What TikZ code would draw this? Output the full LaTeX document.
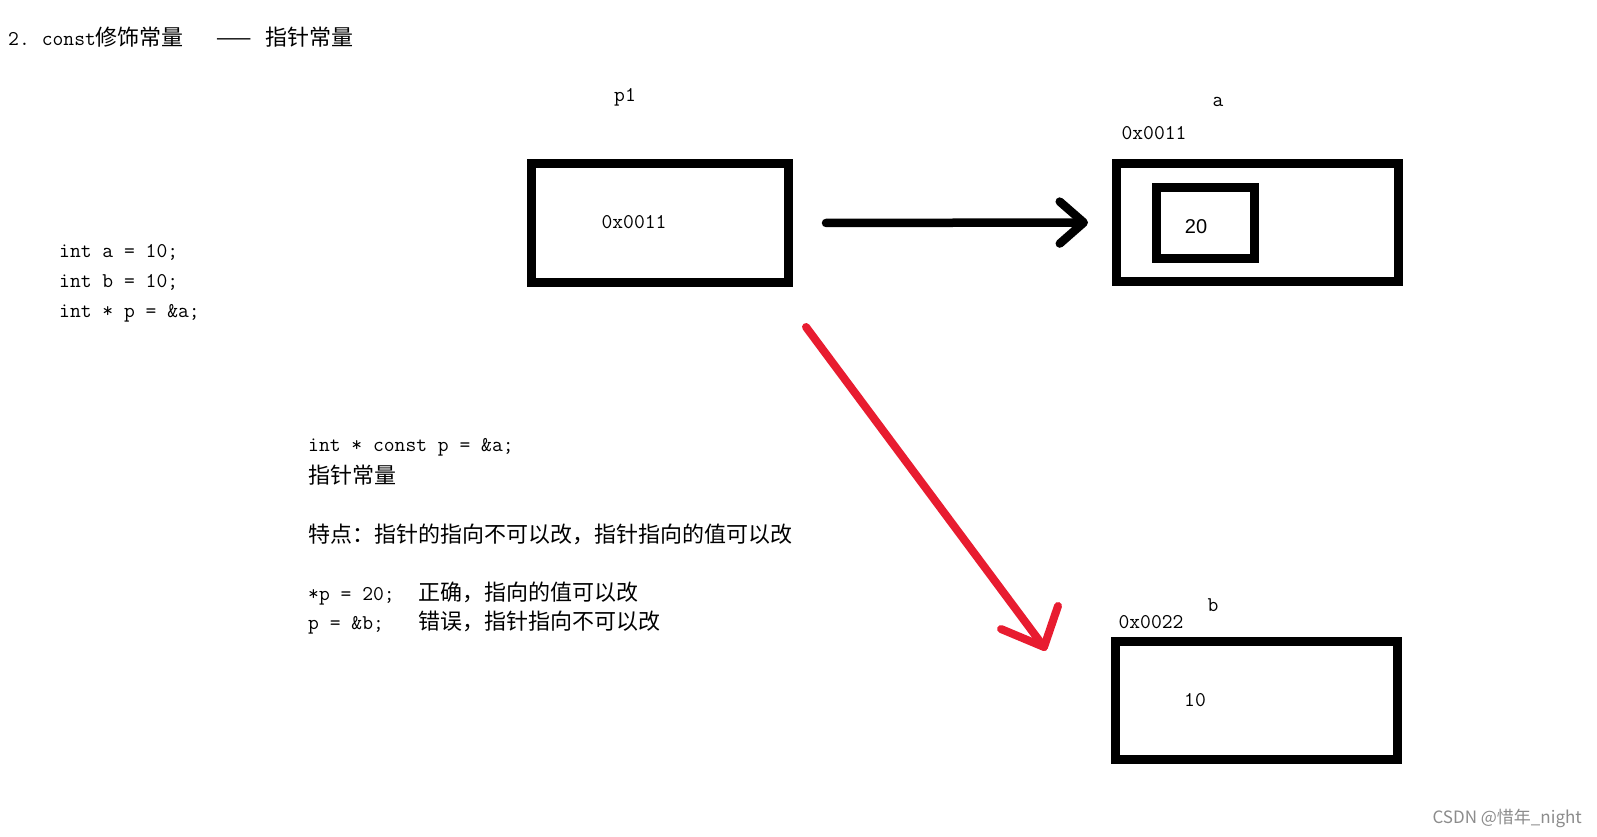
\documentclass[tikz,border=0pt]{standalone}
\usepackage{fontspec}
\usepackage{tikz}
\usepackage{xcolor}
\usetikzlibrary{arrows.meta}
\newfontfamily\cjk{Noto Sans CJK SC}
\newfontfamily\arialfont{Liberation Sans}
\definecolor{arrowred}{RGB}{232,28,48}
\definecolor{markgray}{RGB}{140,140,140}

\tikzset{
  membox/.style 2 args={draw, line width=9pt, minimum width=#1, minimum height=#2, inner sep=0pt},
  code/.style={anchor=base west, inner sep=0pt, font=\ttfamily\fontsize{21}{25}\selectfont},
  cn/.style={anchor=base west, inner sep=0pt, font=\cjk\fontsize{22}{26}\selectfont},
  lbl/.style={inner sep=0pt, font=\ttfamily\fontsize{21}{25}\selectfont},
  ptr/.style={line width=8.5pt, line cap=round, -{Straight Barb[length=24pt, width=42pt, round]}},
  redpen/.style={draw=arrowred, line width=8pt, line cap=round, line join=round}
}

\begin{document}
\begin{tikzpicture}[x=1pt, y=-1pt]
  \useasboundingbox[fill=white] (0,0) rectangle (1597,837);

  % title
  \node[code] (title) at (8,46) {2.\hspace{12pt}const{\cjk\fontsize{22}{26}\selectfont 修饰常量\hspace{32pt}\scalebox{1.9}[1]{—}\hspace{12pt}指针常量}};

  % declarations
  \node[code] (decla) at (59,257) {int a = 10;};
  \node[code] (declb) at (59,287) {int b = 10;};
  \node[code] (declp) at (59,317) {int * p = \&a;};

  % pointer p1
  \node[lbl] (p1name) at (625,97) {p1};
  \node[membox={257pt}{119pt}] (p1box) at (660,223) {};
  \node[lbl] (p1val) at (634,222) {0x0011};

  % variable a
  \node[lbl] (aname) at (1218,102) {a};
  \node[lbl] (aaddr) at (1154,133) {0x0011};
  \node[membox={282pt}{118pt}] (abox) at (1257.5,222.5) {};
  \node[membox={98pt}{71pt}] (ainner) at (1205.5,223) {};
  \node[inner sep=0pt, font=\arialfont\fontsize{20}{24}\selectfont] (aval) at (1196,227) {20};

  % variable b
  \node[lbl] (bname) at (1213,605) {b};
  \node[lbl] (baddr) at (1151,622) {0x0022};
  \node[membox={282pt}{118pt}] (bbox) at (1256.5,700.5) {};
  \node[lbl] (bval) at (1195,700) {10};

  % p1 -> a
  \draw[ptr, shorten <=33pt, shorten >=24pt] (p1box.east) -- (abox.west);

  % p1 -> b (not allowed)
  \coordinate (redfrom) at (806,327);
  \coordinate (redto) at (1044,647);
  \draw[redpen] (redfrom) -- (redto);
  \draw[redpen] ([shift={(-43,-18)}]redto) -- (redto) -- ([shift={(14,-41)}]redto);

  % notes
  \node[code] (constp) at (308,451) {int * const p = \&a;};
  \node[cn] (kind) at (308,483) {指针常量};
  \node[cn] (trait) at (308,542) {特点：指针的指向不可以改，指针指向的值可以改};
  \node[code] (stmtok) at (308,600) {*p = 20;};
  \node[cn] (noteok) at (418,600) {正确，指向的值可以改};
  \node[code] (stmtbad) at (308,629) {p = \&b;};
  \node[cn] (notebad) at (418,629) {错误，指针指向不可以改};

  % watermark
  \node[anchor=east, inner sep=0pt, text=markgray, font=\cjk\fontsize{17}{20}\selectfont] (mark) at (1582,818) {CSDN @惜年\_night};
\end{tikzpicture}
\end{document}
